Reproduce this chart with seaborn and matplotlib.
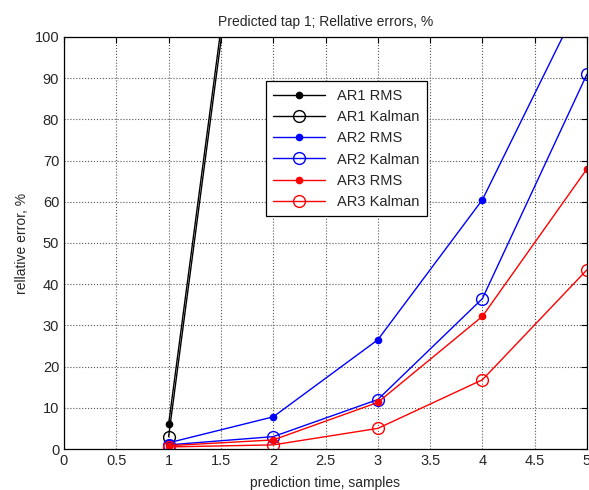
import numpy as np
import pandas as pd
import seaborn as sns
import matplotlib.pyplot as plt

# prediction horizon (samples)
steps = [1, 2, 3, 4, 5]

# relative errors, % (AR1 leaves the plot after step 1; off-chart values are rough)
ar1_rms = [6.0, 198.0, 420.0, 800.0, 1400.0]
ar1_kalman = [3.0, 195.0, 410.0, 790.0, 1380.0]
ar2_rms = [1.5, 7.8, 26.5, 60.5, 112.0]
ar2_kalman = [1.0, 3.0, 12.0, 36.5, 91.0]
ar3_rms = [0.8, 2.2, 11.3, 32.2, 68.0]
ar3_kalman = [0.5, 1.0, 5.0, 16.8, 43.5]

series = [
    ("AR1 RMS", ar1_rms, "black", True),
    ("AR1 Kalman", ar1_kalman, "black", False),
    ("AR2 RMS", ar2_rms, "blue", True),
    ("AR2 Kalman", ar2_kalman, "blue", False),
    ("AR3 RMS", ar3_rms, "red", True),
    ("AR3 Kalman", ar3_kalman, "red", False),
]

sns.set_style("white")
plt.rcParams['font.family'] = ['Liberation Sans', 'DejaVu Sans']

fig = plt.figure(figsize=(5.89, 4.9), dpi=100)
ax = fig.add_axes([64 / 589, 41 / 490, 523 / 589, 412 / 490])

for name, vals, col, filled in series:
    df = pd.DataFrame({"t": steps, "err": vals})
    sns.lineplot(data=df, x="t", y="err", ax=ax, color=col, marker="o",
                 markersize=4.5 if filled else 8.5,
                 markerfacecolor=col if filled else "none",
                 markeredgecolor=col, markeredgewidth=1.0,
                 linewidth=1.0, label=name)

ax.set_xlim(0, 5)
ax.set_ylim(0, 100)
ax.set_xticks(np.arange(0, 5.01, 0.5))
ax.set_xticklabels(["0", "0.5", "1", "1.5", "2", "2.5", "3", "3.5", "4", "4.5", "5"])
ax.set_yticks(np.arange(0, 101, 10))
ax.grid(True, color="#555555", linestyle=":", linewidth=0.8)
ax.tick_params(direction="in", top=True, right=True, labelsize=10.5, length=4, color="black")
for s in ax.spines.values():
    s.set_color("black")
    s.set_linewidth(0.9)

ax.set_title("Predicted tap 1; Rellative errors, %", fontsize=10, pad=8)
ax.set_xlabel("prediction time, samples", fontsize=10, labelpad=6)
ax.set_ylabel("rellative error, %", fontsize=10)

leg = ax.legend(loc="upper left", bbox_to_anchor=(0.3715, 0.91), fontsize=10.5,
                frameon=True, fancybox=False, framealpha=1, edgecolor="black",
                borderpad=0.5, labelspacing=0.5, handlelength=3.6)
leg.get_frame().set_linewidth(0.9)

fig.savefig("out.png", dpi=100)
